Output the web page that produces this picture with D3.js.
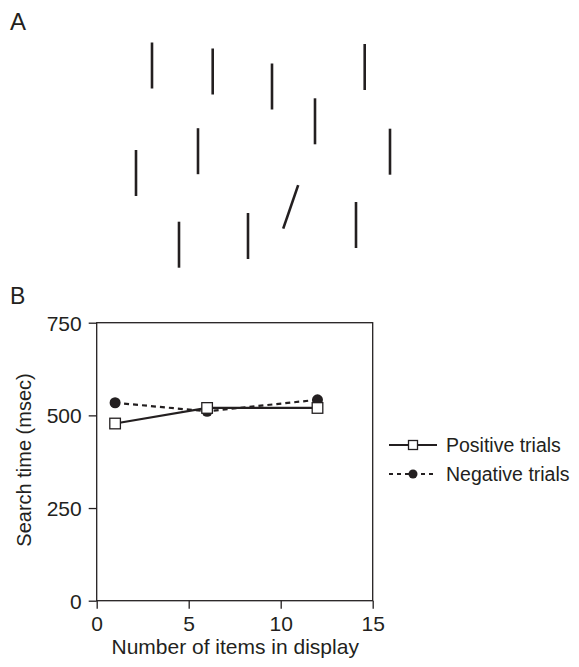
<!DOCTYPE html>
<html>
<head>
<meta charset="utf-8">
<script src="https://cdn.jsdelivr.net/npm/d3@7"></script>
<style>
  body { margin: 0; background: #fff; }
  text { font-family: "Liberation Sans", Arial, sans-serif; fill: #231f20; }
</style>
</head>
<body>
<script>
// panel A: display items (centre x, centre y, tilt in degrees)
var itemX = [152, 212.7, 272, 364.7, 315, 198, 136, 390, 290.7, 356, 179, 248];
var itemY = [65.5, 71.5, 86.5, 67, 121.3, 151.2, 173, 151.7, 206.9, 225, 244.7, 236];
var itemTilt = [0, 0, 0, 0, 0, 0, 0, 0, 19, 0, 0, 0];

// panel B: search times
var setSizes = [1, 6, 12];
var positiveRT = [478, 520, 520];
var negativeRT = [534, 511, 542];
var xTicks = [0, 5, 10, 15];
var yTicks = [0, 250, 500, 750];

var ink = "#231f20";

var svg = d3.select("body").append("svg")
            .attr("width", 579)
            .attr("height", 667);

svg.append("text").attr("x", 10).attr("y", 29.5)
   .attr("font-size", 24).text("A");
svg.append("text").attr("x", 10).attr("y", 303.5)
   .attr("font-size", 23).text("B");

// search display
var half = 23;
svg.selectAll("line.item")
   .data(d3.range(itemX.length))
   .enter().append("line")
   .attr("class", "item")
   .attr("x1", function (i) { return itemX[i] - half * Math.sin(itemTilt[i] * Math.PI / 180); })
   .attr("y1", function (i) { return itemY[i] + half * Math.cos(itemTilt[i] * Math.PI / 180); })
   .attr("x2", function (i) { return itemX[i] + half * Math.sin(itemTilt[i] * Math.PI / 180); })
   .attr("y2", function (i) { return itemY[i] - half * Math.cos(itemTilt[i] * Math.PI / 180); })
   .attr("stroke", ink)
   .attr("stroke-width", 2.6);

// chart
var x = d3.scaleLinear().domain([0, 15]).range([96.7, 372.7]);
var y = d3.scaleLinear().domain([0, 750]).range([600.7, 322.7]);

svg.append("rect")
   .attr("x", x(0)).attr("y", y(750))
   .attr("width", x(15) - x(0)).attr("height", y(0) - y(750))
   .attr("fill", "none").attr("stroke", ink).attr("stroke-width", 1.3);

var xAxis = svg.append("g")
   .attr("transform", "translate(0," + y(0) + ")")
   .call(d3.axisBottom(x).tickValues(xTicks).tickSize(8).tickPadding(7));
var yAxis = svg.append("g")
   .attr("transform", "translate(" + x(0) + ",0)")
   .call(d3.axisLeft(y).tickValues(yTicks).tickSize(8).tickPadding(7));

[xAxis, yAxis].forEach(function (g) {
    g.select(".domain").remove();
    g.selectAll(".tick line").attr("stroke", ink).attr("stroke-width", 1.3);
    g.selectAll(".tick text").attr("font-size", 21)
     .attr("font-family", "Liberation Sans, Arial, sans-serif").attr("fill", ink);
});
yAxis.selectAll(".tick text").attr("dy", "0.36em");

svg.append("text")
   .attr("x", (x(0) + x(15)) / 2 + 0.5).attr("y", 654)
   .attr("text-anchor", "middle").attr("font-size", 21)
   .text("Number of items in display");

svg.append("text")
   .attr("transform", "translate(31,460) rotate(-90)")
   .attr("text-anchor", "middle").attr("font-size", 20)
   .text("Search time (msec)");

var line = d3.line()
    .x(function (d) { return x(d[0]); })
    .y(function (d) { return y(d[1]); });

var negPts = d3.zip(setSizes, negativeRT);
var posPts = d3.zip(setSizes, positiveRT);

svg.append("path").datum(negPts).attr("d", line)
   .attr("fill", "none").attr("stroke", ink).attr("stroke-width", 2.2)
   .attr("stroke-dasharray", "5,4");
svg.selectAll("circle.neg").data(negPts).enter().append("circle")
   .attr("class", "neg")
   .attr("cx", function (d) { return x(d[0]); })
   .attr("cy", function (d) { return y(d[1]); })
   .attr("r", 5.5).attr("fill", ink);

svg.append("path").datum(posPts).attr("d", line)
   .attr("fill", "none").attr("stroke", ink).attr("stroke-width", 2.2);
svg.selectAll("rect.pos").data(posPts).enter().append("rect")
   .attr("class", "pos")
   .attr("x", function (d) { return x(d[0]) - 5.3; })
   .attr("y", function (d) { return y(d[1]) - 5.3; })
   .attr("width", 10.6).attr("height", 10.6)
   .attr("fill", "#fff").attr("stroke", ink).attr("stroke-width", 1.3);

// legend
var lg = svg.append("g");
lg.append("line").attr("x1", 389).attr("x2", 437).attr("y1", 445).attr("y2", 445)
  .attr("stroke", ink).attr("stroke-width", 2.2);
lg.append("rect").attr("x", 408.5).attr("y", 440.5).attr("width", 9).attr("height", 9)
  .attr("fill", "#fff").attr("stroke", ink).attr("stroke-width", 1.3);
lg.append("text").attr("x", 446).attr("y", 452).attr("font-size", 19.5).text("Positive trials");

lg.append("line").attr("x1", 389).attr("x2", 437).attr("y1", 474).attr("y2", 474)
  .attr("stroke", ink).attr("stroke-width", 2.2).attr("stroke-dasharray", "4,4");
lg.append("circle").attr("cx", 413).attr("cy", 474).attr("r", 4.5).attr("fill", ink);
lg.append("text").attr("x", 446).attr("y", 481).attr("font-size", 19.5).text("Negative trials");
</script>
</body>
</html>
